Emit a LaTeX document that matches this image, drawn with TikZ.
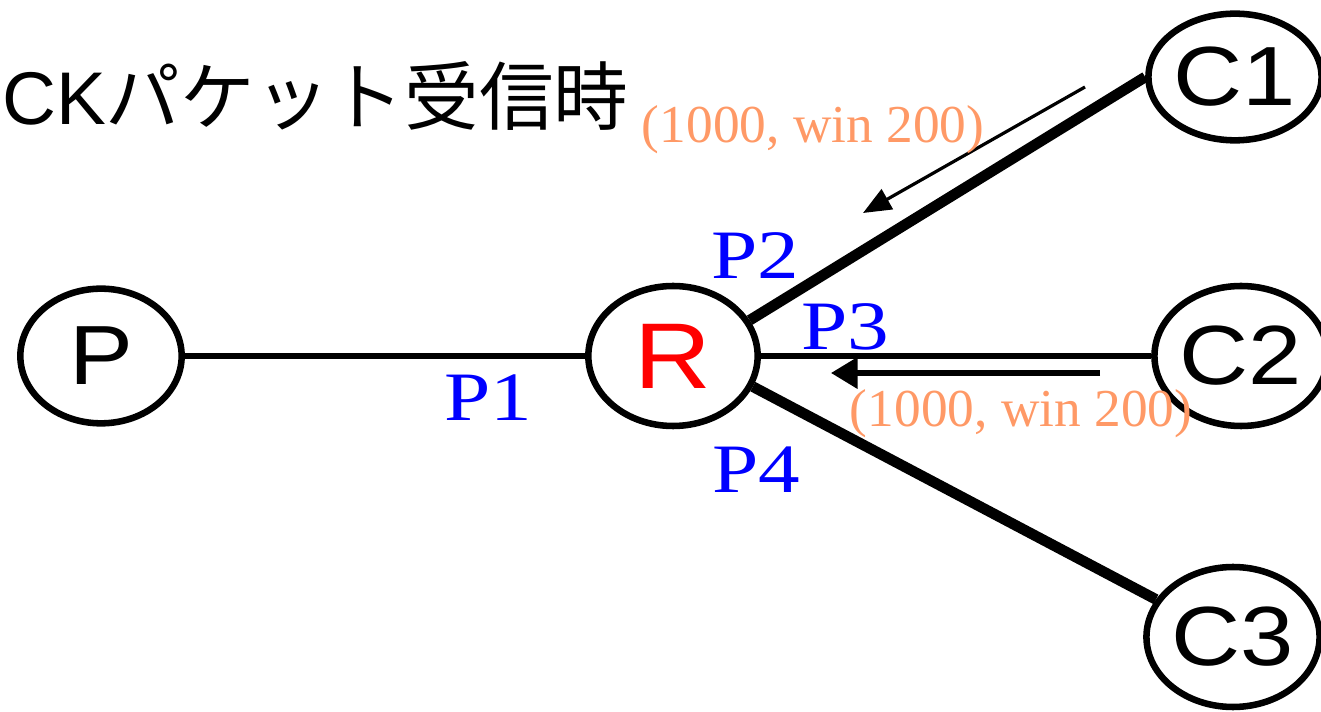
\documentclass[tikz,border=0pt]{standalone}
\usepackage{fontspec}
\setmainfont{Liberation Serif}
\setsansfont{Liberation Sans}
\newfontfamily\jpfont{Noto Sans CJK JP}
\newfontfamily\nodefont[FakeStretch=1.14]{Liberation Sans}
\newfontfamily\portfont[FakeStretch=1.2]{Liberation Serif}
\usetikzlibrary{shapes.geometric,arrows.meta}
\definecolor{pktorange}{RGB}{255,153,102}
\begin{document}
\begin{tikzpicture}[x=0.75pt,y=-0.75pt,
  host/.style={draw,ellipse,line width=4.9pt,inner sep=0pt,
    minimum width=118pt,minimum height=96pt,
    font=\nodefont\fontsize{63}{63}\selectfont},
  link/.style={line width=5.2pt},
  trunk/.style={line width=8pt},
  portlbl/.style={text=blue,font=\portfont\fontsize{52}{52}\selectfont,inner sep=0pt},
  pktlbl/.style={text=pktorange,font=\fontsize{40}{40}\selectfont,inner sep=0pt},
  ackarrow/.style={-{Triangle[length=21pt,width=17pt]}}]
\useasboundingbox (0,0) rectangle (1321,712);
% title
\node[anchor=base west,inner sep=0pt] (title) at (2,125)
  {\sffamily\fontsize{56}{56}\selectfont CK\jpfont パケット受信時};
% hosts
\node[host,minimum width=121pt,minimum height=101pt] (P) at (101,356) {P};
\node[host,minimum width=127pt,minimum height=105pt,text=red,
  font=\nodefont\fontsize{70}{70}\selectfont] (R) at (673,356) {R};
\node[host,minimum width=116pt,minimum height=95pt] (C1) at (1235,77) {C1};
\node[host,minimum width=114pt,minimum height=105pt] (C2) at (1241,356) {C2};
\node[host,minimum width=118pt,minimum height=105pt] (C3) at (1233,637) {C3};
% links
\draw[link] (P.east) -- (R.west);
\draw[link] (R.east) -- (C2.west);
\draw[trunk] (R.25) -- (C1.west);
\draw[trunk] (R.339) -- (C3.154);
% port labels
\node[portlbl] (p1) at (488,398) {P1};
\node[portlbl] (p2) at (755,256) {P2};
\node[portlbl] (p3) at (845,327) {P3};
\node[portlbl] (p4) at (756,470) {P4};
% ack packets
\coordinate (a1s) at (1085,87);
\coordinate (a1e) at (863,213);
\draw[ackarrow,line width=2.4pt] (a1s) -- (a1e);
\coordinate (a2s) at (1100,373);
\coordinate (a2e) at (831,373);
\draw[-{Triangle[length=20pt,width=23pt]},line width=4pt] (a2s) -- (a2e);
\node[pktlbl] (k1) at (813,130) {(1000, win 200)};
\node[pktlbl] (k2) at (1021,414) {(1000, win 200)};
\end{tikzpicture}
\end{document}
